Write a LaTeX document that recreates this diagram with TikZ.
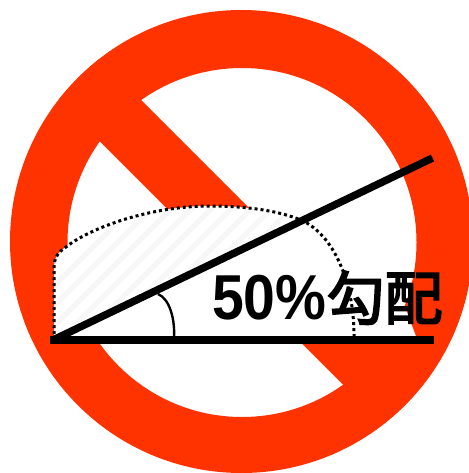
\documentclass[tikz,border=0pt]{standalone}
\usepackage{fontspec}
\setmainfont[FakeStretch=0.9]{Liberation Sans}
\newfontfamily\cjkfont[FakeBold=3.2]{Noto Sans CJK JP}
\usetikzlibrary{calc}
\definecolor{forbid}{HTML}{FF3300}
\definecolor{stripe}{HTML}{F7F7F7}
\tikzset{
  ring/.style={fill=forbid, even odd rule},
  bar/.style={draw=forbid, line width=58.5pt},
  patch/.style={fill=white},
  outline/.style={draw=black, line width=3pt, dash pattern=on 3pt off 3pt},
  stripeline/.style={draw=stripe, line width=5pt},
  slope/.style={draw=black, line width=7.5pt},
  base/.style={draw=black, line width=8.5pt},
  angle/.style={draw=black, line width=2.4pt},
  grade/.style={font=\fontsize{63.5}{65}\bfseries\selectfont, inner sep=0pt, anchor=base west},
}
\newcommand{\humppath}{(54,340) -- (54,268) .. controls (54,258) and (58,252) .. (66,247)
    .. controls (90,228) and (150,206) .. (210,206)
    .. controls (250,206) and (285,212) .. (305,222)
    .. controls (335,238) and (355,285) .. (354,340)}
\begin{document}
\begin{tikzpicture}[x=1pt, y=-1pt]
    \useasboundingbox (0,0) rectangle (468,473);
    \fill[white] (0,0) rectangle (468,473);
    % sign
    \draw[bar] (105,105.35) -- (380,380.35);
    \path[ring] (241.5,241.5) circle (231.5) (242,242.5) circle (174.5);
    % hump
    \fill[patch] (345,295) -- (405,307) -- (417,339) -- (345,339) -- cycle;
    \fill[patch] \humppath -- cycle;
    \begin{scope}
      \clip \humppath -- cycle;
      \clip (53,340) -- (433,158) -- (53,158) -- cycle;
      \foreach \x in {0,20,...,460} \draw[stripeline] (\x,340) -- ++(160,-160);
    \end{scope}
    \draw[outline] \humppath;
    % lines
    \coordinate (o) at (53,340);
    \coordinate (s) at (432.5,158);
    \coordinate (a) at (50,340);
    \coordinate (b) at (434,340);
    \coordinate (p) at (158,294);
    \coordinate (q) at (174,337);
    \draw[angle] (p) .. controls (170,299) and (175,320) .. (q);
    \draw[slope] (o) -- (s);
    \draw[base] (a) -- (b);
    \node[grade] (label) at (212,319.5) {50\%{\cjkfont\mdseries\fontsize{58}{60}\selectfont 勾配}};
\end{tikzpicture}
\end{document}
